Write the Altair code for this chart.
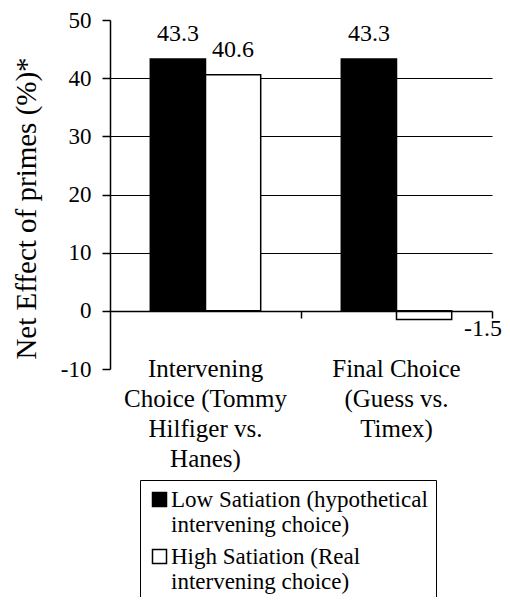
import altair as alt
import pandas as pd

categories = ["Intervening\nChoice (Tommy\nHilfiger vs.\nHanes)", "Final Choice\n(Guess vs.\nTimex)"]
series = ["Low Satiation (hypothetical\nintervening choice)", "High Satiation (Real\nintervening choice)"]
low_values = [43.3, 43.3]
high_values = [40.6, -1.5]
bar_colors = ["#000000", "#ffffff"]
y_ticks = [-10, 0, 10, 20, 30, 40, 50]

rows = []
for c, lv, hv in zip(categories, low_values, high_values):
    rows.append({"cat": c, "series": series[0], "value": lv})
    rows.append({"cat": c, "series": series[1], "value": hv})
df = pd.DataFrame(rows)

FONT = "Liberation Serif"

y_enc = alt.Y(
    "value:Q",
    scale=alt.Scale(domain=[-10, 50], nice=False, zero=False),
    axis=alt.Axis(
        values=y_ticks,
        title="Net Effect of primes (%)*",
        grid=True,
        gridColor="black",
        gridWidth=1.2,
        gridOpacity={"condition": {"test": "datum.value > 0 && datum.value < 50", "value": 1}, "value": 0},
        domainColor="black",
        domainWidth=1.5,
        tickColor="black",
        tickSize=8,
        tickWidth=1.5,
        labelPadding=11,
        labelExpr="toString(datum.value)",
        labelFont=FONT,
        labelFontSize=23,
        labelColor="black",
        titleFont=FONT,
        titleFontSize=29,
        titleFontWeight="normal",
        titleColor="black",
        titleX=-75,
        titleY=188,
        titleBaseline="alphabetic",
        titleAngle=270,
    ),
)

xoff = alt.XOffset("series:N", sort=series, scale=alt.Scale(paddingOuter=0.73, paddingInner=0))
x_scale = alt.Scale(paddingInner=0, paddingOuter=0)

bars = alt.Chart(df).mark_bar(stroke="black", strokeWidth=1.5).encode(
    x=alt.X(
        "cat:N",
        sort=categories,
        scale=x_scale,
        axis=alt.Axis(
            title=None,
            labelAngle=0,
            domain=False,
            ticks=False,
            tickSize=0,
            labelPadding=-13,
            labelBaseline="top",
            labelLineHeight=30,
            labelFont=FONT,
            labelFontSize=25,
            labelColor="black",
            labelExpr="split(datum.label, '\\n')",
            labelLimit=0,
        ),
    ),
    xOffset=xoff,
    y=y_enc,
    fill=alt.Fill(
        "series:N",
        sort=series,
        scale=alt.Scale(domain=series, range=bar_colors),
        legend=alt.Legend(
            title=None,
            orient="none",
            legendX=30,
            legendY=460,
            strokeColor="black",
            fillColor="white",
            padding=8,
            symbolType="square",
            symbolSize=196,
            symbolStrokeColor="black",
            symbolStrokeWidth=1.5,
            symbolOpacity=1,
            labelFont=FONT,
            labelFontSize=23,
            labelColor="black",
            labelExpr="split(datum.label, '\\n')",
            labelLimit=0,
            rowPadding=8,
            labelOffset=0,
        ),
    ),
)

zero_axis = alt.Chart(df).mark_point(opacity=0).encode(
    x=alt.X(
        "cat:N",
        sort=categories,
        scale=x_scale,
        axis=alt.Axis(
            title=None,
            labels=False,
            domain=True,
            domainColor="black",
            domainWidth=1.5,
            ticks=True,
            tickColor="black",
            tickSize=7,
            tickWidth=1.5,
            offset=-58,
            bandPosition=1,
            orient="bottom",
            zindex=1,
        ),
    ),
    y=y_enc,
)

label_expr = "replace(format(datum.value, '.1f'), '\u2212', '-')"

pos_labels = alt.Chart(df).transform_filter("datum.value >= 0").transform_calculate(
    lbl=label_expr
).mark_text(
    dy=-18, baseline="alphabetic", align="center", font=FONT, fontSize=24, color="black"
).encode(
    x=alt.X("cat:N", sort=categories, scale=x_scale, axis=None),
    xOffset=xoff,
    y=y_enc,
    text="lbl:N",
)

neg_labels = alt.Chart(df).transform_filter("datum.value < 0").transform_calculate(
    lbl=label_expr
).mark_text(
    dx=59, dy=16, baseline="alphabetic", align="center", font=FONT, fontSize=24, color="black"
).encode(
    x=alt.X("cat:N", sort=categories, scale=x_scale, axis=None),
    xOffset=xoff,
    y=y_enc,
    text="lbl:N",
)

chart = (
    alt.layer(bars, zero_axis, pos_labels, neg_labels)
    .resolve_axis(x="independent")
    .properties(
        width=382,
        height=349,
        autosize=alt.AutoSizeParams(type="none"),
        padding={"left": 102, "top": 12, "right": 10, "bottom": 228},
        background="white",
    )
    .configure_view(stroke=None)
)

chart.save("out.html", embed_options={"renderer": "svg", "actions": False})
